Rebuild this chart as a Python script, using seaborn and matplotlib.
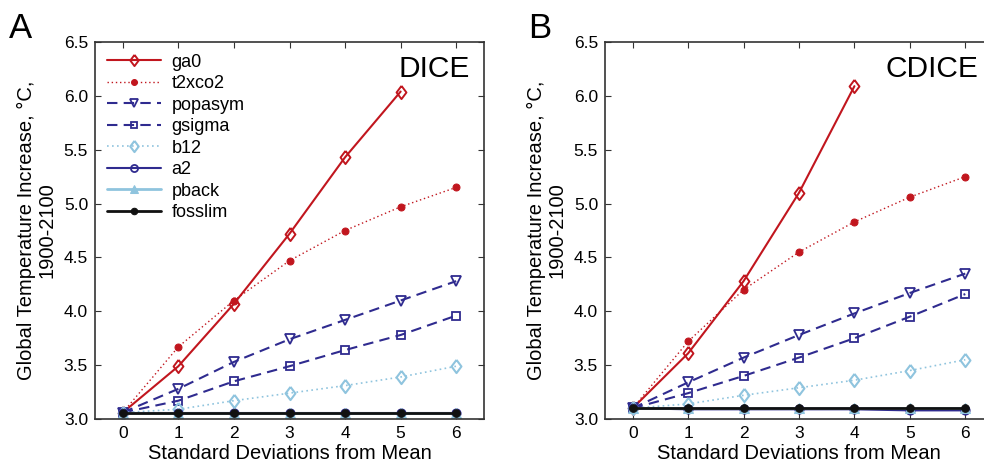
import matplotlib
matplotlib.use("Agg")
import matplotlib.pyplot as plt
import seaborn as sns
import pandas as pd

sns.set_style("white")
plt.rcParams['font.family'] = ['Liberation Sans', 'DejaVu Sans']
plt.rcParams['text.color'] = 'black'
plt.rcParams['axes.labelcolor'] = 'black'

sd = [0, 1, 2, 3, 4, 5, 6]
series_names = ["ga0", "t2xco2", "popasym", "gsigma", "b12", "a2", "pback", "fosslim"]

dice = {
    "ga0":     [3.06, 3.49, 4.07, 4.72, 5.43, 6.04],
    "t2xco2":  [3.06, 3.67, 4.10, 4.47, 4.75, 4.97, 5.15],
    "popasym": [3.06, 3.28, 3.53, 3.74, 3.92, 4.10, 4.28],
    "gsigma":  [3.06, 3.17, 3.35, 3.49, 3.64, 3.78, 3.96],
    "b12":     [3.06, 3.09, 3.17, 3.24, 3.31, 3.39, 3.49],
    "a2":      [3.06, 3.06, 3.06, 3.06, 3.06, 3.06, 3.06],
    "pback":   [3.06, 3.06, 3.06, 3.06, 3.06, 3.06, 3.06],
    "fosslim": [3.06, 3.06, 3.06, 3.06, 3.06, 3.06, 3.06],
}
cdice = {
    "ga0":     [3.10, 3.61, 4.28, 5.10, 6.09],
    "t2xco2":  [3.10, 3.72, 4.20, 4.55, 4.83, 5.06, 5.25],
    "popasym": [3.10, 3.34, 3.57, 3.78, 3.98, 4.17, 4.35],
    "gsigma":  [3.10, 3.24, 3.40, 3.57, 3.75, 3.95, 4.16],
    "b12":     [3.10, 3.14, 3.22, 3.29, 3.36, 3.45, 3.55],
    "a2":      [3.10, 3.09, 3.09, 3.09, 3.09, 3.08, 3.08],
    "pback":   [3.10, 3.10, 3.10, 3.10, 3.10, 3.10, 3.10],
    "fosslim": [3.10, 3.10, 3.10, 3.10, 3.10, 3.10, 3.10],
}

yticks = [3.0, 3.5, 4.0, 4.5, 5.0, 5.5, 6.0, 6.5]

RED = "#c1161e"
DBLUE = "#2f2b8f"
LBLUE = "#8fc4de"
DIAMOND = [(0, 1), (0.75, 0), (0, -1), (-0.75, 0), (0, 1)]
styles = {
    "ga0":     dict(color=RED, linestyle="-", marker=DIAMOND, markerfacecolor="none", markeredgecolor=RED, markersize=9.5, lw=1.5, mew=1.4),
    "t2xco2":  dict(color=RED, linestyle=(0, (1, 2)), marker="o", markerfacecolor=RED, markeredgecolor=RED, markersize=5, lw=1.0),
    "popasym": dict(color=DBLUE, linestyle=(0, (5, 3)), marker="v", markerfacecolor="none", markeredgecolor=DBLUE, markersize=7, lw=1.5, mew=1.3),
    "gsigma":  dict(color=DBLUE, linestyle=(0, (5, 3)), marker="s", markerfacecolor="none", markeredgecolor=DBLUE, markersize=5.5, lw=1.5, mew=1.3),
    "b12":     dict(color=LBLUE, linestyle=(0, (1, 2)), marker=DIAMOND, markerfacecolor="none", markeredgecolor=LBLUE, markersize=9.5, lw=1.2, mew=1.5),
    "a2":      dict(color=DBLUE, linestyle="-", marker="o", markerfacecolor="none", markeredgecolor=DBLUE, markersize=6, lw=1.5, mew=1.3),
    "pback":   dict(color=LBLUE, linestyle="-", marker="^", markerfacecolor=LBLUE, markeredgecolor=LBLUE, markersize=7, lw=2.0),
    "fosslim": dict(color="#111111", linestyle="-", marker="o", markerfacecolor="#111111", markeredgecolor="#111111", markersize=5.5, lw=2.0),
}

fig = plt.figure(figsize=(9.84, 4.69), dpi=100)
axA = fig.add_axes([95/984, 1-419/469, (484-95)/984, (419-42)/469])
axB = fig.add_axes([605/984, 1-419/469, (993-605)/984, (419-42)/469])

panels = [(axA, dice, "DICE", "A", 9/984, (470-95)/(484-95)),
          (axB, cdice, "CDICE", "B", 528/984, (978-605)/(993-605))]
for ax, data, name, letter, lx, tx in panels:
    for s in series_names:
        vals = data[s]
        df = pd.DataFrame({"x": sd[:len(vals)], "y": vals})
        sns.lineplot(data=df, x="x", y="y", ax=ax, label=s, **styles[s])
    ax.set_xlim(-0.5, 6.5)
    ax.set_ylim(3.0, 6.5)
    ax.set_xticks(sd)
    ax.set_yticks(yticks)
    ax.set_yticklabels([f"{v:.1f}" for v in yticks])
    ax.tick_params(direction="in", length=4, width=0.8, top=True, right=True,
                   bottom=True, left=True,
                   labelsize=12.5, colors="#333333", labelcolor="black", pad=5)
    for sp in ax.spines.values():
        sp.set_color("#333333")
        sp.set_linewidth(1.2)
    ax.set_xlabel("Standard Deviations from Mean", fontsize=14.5, labelpad=2)
    ax.set_ylabel("Global Temperature Increase, °C,\n1900-2100", fontsize=14.5, labelpad=5, linespacing=1.1)
    ax.text(tx, 0.965, name, transform=ax.transAxes, ha="right", va="top", fontsize=21.5)
    fig.text(lx, 0.975, letter, fontsize=25, va="top", ha="left")

leg = axA.legend(loc="upper left", frameon=False, fontsize=13, handlelength=3.0,
                 labelspacing=0.25, borderaxespad=0.25, handletextpad=0.6, markerscale=0.85)
axB.get_legend().remove()

fig.savefig("out.png", dpi=100)
